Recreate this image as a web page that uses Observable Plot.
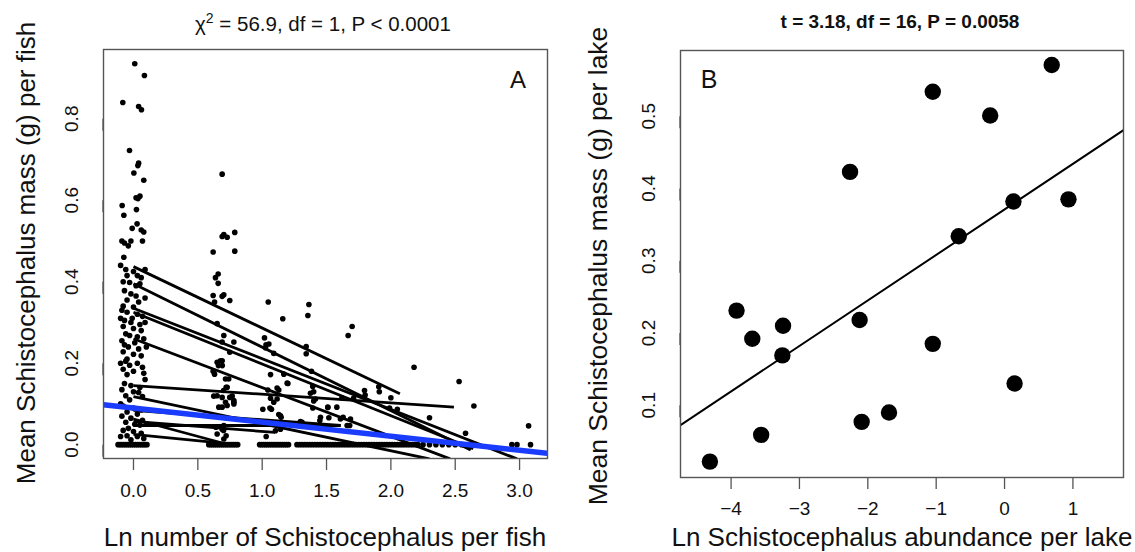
<!DOCTYPE html>
<html>
<head>
<meta charset="utf-8">
<script src="https://cdn.jsdelivr.net/npm/d3@7"></script>
<script src="https://cdn.jsdelivr.net/npm/@observablehq/plot@0.6"></script>
<style>
  body { margin: 0; background: #fff; }
  #wrap { display: flex; width: 1135px; height: 552px; }
  svg text { font-family: "Liberation Sans", Arial, Helvetica, sans-serif; }
</style>
</head>
<body>
<div id="wrap"></div>
<script>
// ---- Panel A: individual fish (x = ln parasite count, jittered; y = mean worm mass, g) ----
const fishOne = [
  [0.01,0.935],[0.085,0.906],[-0.083,0.84],[0.04,0.83],[0.062,0.822],[-0.031,0.722],[0.04,0.691],[0.034,0.685],
  [0.003,0.667],[0.08,0.649],[0.02,0.606],[0.05,0.61],[0.035,0.604],[-0.088,0.587],[-0.075,0.563],[0.023,0.577],
  [0.028,0.542],[-0.01,0.531],[0.06,0.527],[0.08,0.522],[-0.09,0.50],[-0.07,0.495],[-0.04,0.488],[-0.02,0.50],[0.07,0.50],
  [-0.075,0.46],[-0.06,0.43],[0.0,0.425],[0.03,0.415],[0.06,0.41],[-0.08,0.40],[-0.03,0.398],[0.05,0.395],
  [-0.1,0.44],[0.09,0.43],[-0.05,0.415],[0.02,0.39],[0.09,0.36],[-0.1,0.31],[0.09,0.3],[-0.01,0.31],
  [-0.07,0.378],[-0.02,0.37],[0.02,0.365],[-0.05,0.355],[0.04,0.35],[-0.08,0.34],[0.0,0.338],
  [-0.09,0.33],[-0.05,0.325],[0.03,0.32],[0.07,0.315],[-0.07,0.305],[-0.02,0.30],[0.05,0.295],[-0.08,0.29],
  [0.0,0.285],[0.06,0.28],[-0.06,0.272],[-0.03,0.268],[0.03,0.265],[0.08,0.26],[-0.09,0.255],[0.01,0.25],
  [-0.07,0.245],[-0.04,0.24],[0.04,0.235],[-0.08,0.228],[0.0,0.222],[0.06,0.218],[-0.05,0.21],[0.1,0.24],
  [-0.06,0.205],[0.03,0.2],[-0.03,0.195],[0.07,0.19],[-0.08,0.185],[0.0,0.18],[-0.05,0.172],[0.08,0.175],[-0.1,0.2],
  [-0.07,0.15],[-0.02,0.145],[0.05,0.14],[-0.09,0.135],[0.0,0.13],[0.04,0.128],[-0.06,0.12],[0.07,0.118],[-0.03,0.11],[0.09,0.16],
  [-0.08,0.095],[0.0,0.09],[0.06,0.085],[-0.05,0.08],[0.03,0.075],[-0.09,0.07],[-0.02,0.065],[0.07,0.06],
  [-0.06,0.055],[0.01,0.05],[0.05,0.048],[-0.04,0.04],[-0.1,0.1],[0.1,0.05],
  [-0.08,0.035],[0.0,0.032],[0.06,0.028],[-0.05,0.022],[0.03,0.02],[0.08,0.015],[-0.02,0.012],[-0.1,0.02]
];
const fishTwo = [
  [0.689,0.664],[0.689,0.511],[0.702,0.516],[0.728,0.509],[0.787,0.521],[0.619,0.473],[0.787,0.475],
  [0.658,0.419],[0.637,0.41],[0.658,0.396],[0.619,0.366],[0.689,0.364],[0.702,0.368],[0.63,0.35],[0.748,0.354],
  [0.65,0.297],[0.702,0.268],[0.689,0.252],[0.78,0.252],[0.748,0.227],[0.676,0.206],[0.65,0.202],[0.689,0.206],
  [0.63,0.173],[0.619,0.18],[0.715,0.161],[0.728,0.141],[0.65,0.12],[0.689,0.116],[0.748,0.116],[0.78,0.108],
  [0.715,0.104],[0.689,0.092],[0.78,0.104],[0.702,0.047],[0.689,0.038],[0.65,0.026],[0.702,0.014],
  [0.624,0.119],[0.767,0.119],[0.70,0.133],[0.78,0.1],[0.728,0.096],[0.663,0.092],[0.74,0.161],[0.72,0.141],
  [0.64,0.043],[0.70,0.035],[0.72,0.022],[0.66,0.194],[0.69,0.194]
];
const fishThree = [
  [1.047,0.350],[1.16,0.309],[1.018,0.262],[1.052,0.247],[1.026,0.238],[1.09,0.224],[1.065,0.172],[1.168,0.173],
  [1.194,0.151],[1.116,0.139],[1.044,0.134],[1.129,0.134],[1.065,0.114],[1.116,0.112],[1.09,0.104],[1.005,0.087],
  [1.072,0.087],[1.129,0.074],[1.147,0.067],[1.103,0.034],[1.142,0.038],[1.031,0.02],[1.142,0.071],[1.116,0.047],
  [1.2,0.15],[1.03,0.245],[1.06,0.09]
];
const fishMany = [
  [1.363,0.344],[1.355,0.317],[1.342,0.241],[1.342,0.223],[1.383,0.180],[1.393,0.143],[1.375,0.126],[1.414,0.112],
  [1.393,0.090],[1.510,0.091],[1.297,0.057],[1.453,0.067],[1.518,0.066],[1.448,0.059],[1.608,0.063],[1.629,0.067],
  [1.66,0.047],[1.686,0.063],[1.699,0.290],[1.668,0.268],[1.62,0.115],[1.71,0.114],[1.80,0.122],[1.58,0.092],
  [1.51,0.092],[1.68,0.047],[1.91,0.13],[1.795,0.133],[1.906,0.142],[2.0,0.115],[1.99,0.09],[2.05,0.087],
  [2.18,0.19],[2.30,0.066],[2.53,0.155],[2.645,0.095],[2.58,0.028],[3.07,0.046],[1.29,0.05],[1.40,0.13],
  [1.40,0.107],[1.31,0.055]
];
// fish with zero worm mass recorded (y = 0)
const zeroMassX = [
  -0.12,-0.105,-0.09,-0.075,-0.06,-0.045,-0.03,-0.015,0,0.015,0.03,0.045,0.06,0.075,0.09,0.105,
  0.585,0.6,0.615,0.63,0.645,0.66,0.675,0.69,0.705,0.72,0.735,0.75,0.765,0.78,0.795,0.81,
  0.98,0.995,1.01,1.025,1.04,1.055,1.07,1.085,1.1,1.115,1.13,1.145,1.16,1.175,1.19,1.205,
  1.27,1.29,1.31,1.33,1.35,1.37,1.39,1.41,1.43,1.45,1.47,1.49,1.51,1.53,1.55,1.57,1.59,1.61,1.63,1.65,
  1.67,1.69,1.71,1.73,1.75,1.77,1.79,1.81,1.83,1.85,1.87,1.89,1.91,1.93,1.95,1.97,1.99,2.01,2.03,2.05,
  2.07,2.09,2.11,2.13,2.15,2.17,2.19,2.21,
  2.25,2.3,2.35,2.4,2.45,2.5,2.55,2.6,2.63,2.66,2.94,2.98,3.085
];
// per-lake fitted lines: [x start, y start, x end, y end]
const lakeFitLines = [
  [0, 0.437, 2.07, 0.125],
  [0, 0.395, 2.62, -0.013],
  [0, 0.335, 2.98, -0.035],
  [0, 0.325, 2.64, -0.010],
  [0, 0.260, 2.46, -0.035],
  [0, 0.145, 2.49, 0.092],
  [0, 0.118, 2.30, -0.035],
  [0, 0.084, 1.61, 0.047],
  [0, 0.063, 0.69, 0.004],
  [0, 0.047, 1.61, 0.047],
  [0, 0.025, 0.69, 0.004],
  [0, 0.057, 1.10, 0.030]
];
// overall (population-level) fit
const popIntercept = 0.090;
const popSlope = -0.0346;

const xTicksA = [0, 0.5, 1, 1.5, 2, 2.5, 3];
const yTicksA = [0, 0.2, 0.4, 0.6, 0.8];

// ---- Panel B: one point per lake ----
const lakeAbundance = [-4.31,-3.92,-3.69,-3.56,-3.24,-3.25,-2.26,-2.12,-2.09,-1.69,-1.05,-1.05,-0.67,-0.21,0.13,0.147,0.69,0.935];
const lakeMeanMass  = [0.022,0.231,0.192,0.059,0.210,0.169,0.423,0.218,0.077,0.090,0.534,0.185,0.334,0.501,0.382,0.130,0.571,0.385];
const xTicksB = [-4, -3, -2, -1, 0, 1];
const yTicksB = [0.1, 0.2, 0.3, 0.4, 0.5];

const FONT = "Liberation Sans, Arial, Helvetica, sans-serif";
const fmt1 = d3.format(".1f");
const ink = "#111";
const frameInk = "#555";

// ---------------- Panel A ----------------
const fishPoints = [...fishOne, ...fishTwo, ...fishThree, ...fishMany, ...zeroMassX.map(x => [x, 0])];
const xDomA = [-0.233, 3.217];
const yDomA = [-0.034, 0.970];

const plotA = Plot.plot({
  width: 560, height: 552,
  marginLeft: 103, marginRight: 13, marginTop: 49, marginBottom: 94,
  x: {domain: xDomA, label: null},
  y: {domain: yDomA, label: null},
  style: {fontFamily: FONT, background: "#fff", color: ink, overflow: "visible"},
  marks: [
    Plot.dot(fishPoints, {x: d => d[0], y: d => d[1], r: 2.8, fill: "#000", stroke: "none"}),
    Plot.link(lakeFitLines, {x1: d => d[0], y1: d => d[1], x2: d => d[2], y2: d => d[3],
      stroke: "#000", strokeWidth: 2.8, clip: true}),
    Plot.line(xDomA.map(x => ({x, y: popIntercept + popSlope * x})),
      {x: "x", y: "y", stroke: "#1a3cff", strokeWidth: 5.5, clip: true}),
    Plot.frame({stroke: frameInk, strokeWidth: 1.4}),
    Plot.axisX({ticks: xTicksA, tickFormat: fmt1, tickSize: 12, tickPadding: 13, fontSize: 19, label: null,
      stroke: frameInk, strokeWidth: 1.3, color: ink}),
    Plot.axisY({ticks: yTicksA, tickFormat: fmt1, tickSize: 12, tickPadding: 14, fontSize: 19, label: null,
      rotate: -90, textAnchor: "middle", lineAnchor: "bottom", stroke: frameInk, strokeWidth: 1.3, color: ink})
  ]
});

// ---------------- Panel B ----------------
const lakes = lakeAbundance.map((x, i) => ({x, y: lakeMeanMass[i]}));
const xDomB = [-4.74, 1.74];
const yDomB = [0.0, 0.591];
// ordinary least squares fit of mean mass on ln abundance
const mx = d3.mean(lakes, d => d.x), my = d3.mean(lakes, d => d.y);
const slopeB = d3.sum(lakes, d => (d.x - mx) * (d.y - my)) / d3.sum(lakes, d => (d.x - mx) ** 2);
const interceptB = my - slopeB * mx;

const plotB = Plot.plot({
  width: 575, height: 552,
  marginLeft: 120, marginRight: 12, marginTop: 50, marginBottom: 75,
  x: {domain: xDomB, label: null},
  y: {domain: yDomB, label: null},
  style: {fontFamily: FONT, background: "#fff", color: ink, overflow: "visible"},
  marks: [
    Plot.line(xDomB.map(x => ({x, y: interceptB + slopeB * x})),
      {x: "x", y: "y", stroke: "#000", strokeWidth: 2, clip: true}),
    Plot.dot(lakes, {x: "x", y: "y", r: 8.2, fill: "#000", stroke: "none"}),
    Plot.frame({stroke: frameInk, strokeWidth: 1.4}),
    Plot.axisX({ticks: xTicksB, tickFormat: d => d3.format("d")(d), tickSize: 12, tickPadding: 12, fontSize: 19,
      label: null, stroke: frameInk, strokeWidth: 1.3, color: ink}),
    Plot.axisY({ticks: yTicksB, tickFormat: fmt1, tickSize: 12, tickPadding: 14, fontSize: 19, label: null,
      rotate: -90, textAnchor: "middle", lineAnchor: "bottom", stroke: frameInk, strokeWidth: 1.3, color: ink})
  ]
});

// ---------------- titles, axis titles, panel letters ----------------
function addText(svg, {x, y, text, size, weight = "normal", rotate = 0, anchor = "middle"}) {
  const t = d3.select(svg).append("text")
    .attr("text-anchor", anchor)
    .attr("font-family", FONT)
    .attr("font-size", size)
    .attr("font-weight", weight)
    .attr("fill", ink);
  if (rotate) t.attr("transform", `translate(${x},${y}) rotate(${rotate})`);
  else t.attr("x", x).attr("y", y);
  t.text(text);
  return t;
}

// Panel A heading with superscript 2
{
  const t = d3.select(plotA).append("text")
    .attr("x", 323).attr("y", 31)
    .attr("text-anchor", "middle")
    .attr("font-family", FONT).attr("font-size", 20.5).attr("fill", ink);
  t.append("tspan").text("\u03C7");
  t.append("tspan").attr("dy", -8).attr("font-size", 14).text("2");
  t.append("tspan").attr("dy", 8).text(" = 56.9, df = 1, P < 0.0001");
}
addText(plotA, {x: 325, y: 546, text: "Ln number of Schistocephalus per fish", size: 26});
addText(plotA, {x: 35, y: 253, text: "Mean Schistocephalus mass (g) per fish", size: 26, rotate: -90});
addText(plotA, {x: 518, y: 88, text: "A", size: 24});

addText(plotB, {x: 340, y: 28, text: "t = 3.18, df = 16, P = 0.0058", size: 19, weight: "bold"});
addText(plotB, {x: 342, y: 546, text: "Ln Schistocephalus abundance per lake", size: 26});
addText(plotB, {x: 47, y: 266, text: "Mean Schistocephalus mass (g) per lake", size: 26.5, rotate: -90});
addText(plotB, {x: 149, y: 88, text: "B", size: 25});

const wrap = document.getElementById("wrap");
wrap.appendChild(plotA);
wrap.appendChild(plotB);
</script>
</body>
</html>
